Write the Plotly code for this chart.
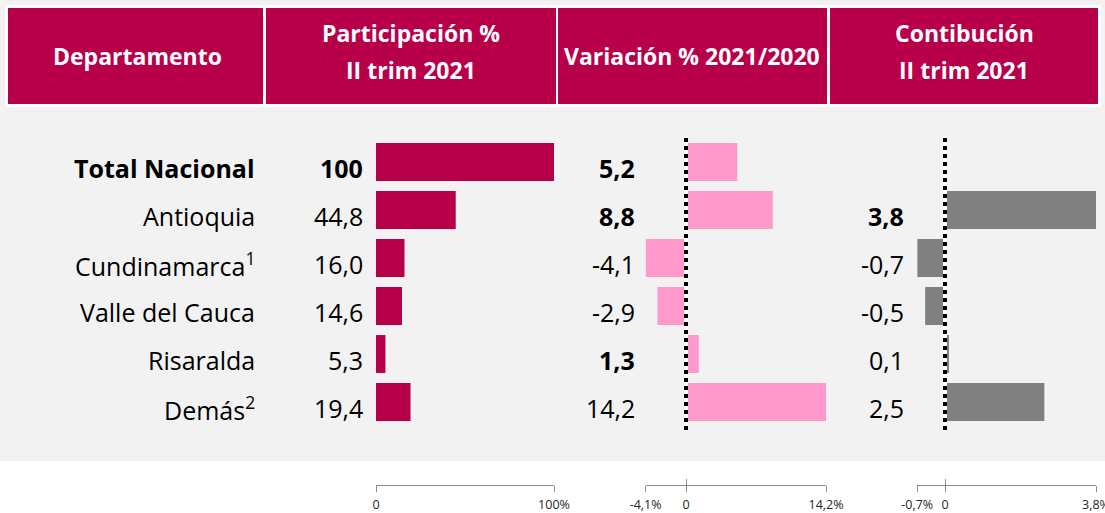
import plotly.graph_objects as go

# ---------------- data ----------------
departamentos = ["Total Nacional", "Antioquia", "Cundinamarca<sup>1</sup>",
                 "Valle del Cauca", "Risaralda", "Demás<sup>2</sup>"]
participacion = [100, 44.8, 16.0, 14.6, 5.3, 19.4]
participacion_txt = ["100", "44,8", "16,0", "14,6", "5,3", "19,4"]
variacion = [5.2, 8.8, -4.1, -2.9, 1.3, 14.2]
variacion_txt = ["5,2", "8,8", "-4,1", "-2,9", "1,3", "14,2"]
contribucion = [None, 3.8, -0.7, -0.5, 0.1, 2.5]
contribucion_txt = ["", "3,8", "-0,7", "-0,5", "0,1", "2,5"]
bold_dep = [True, False, False, False, False, False]
bold_par = [True, False, False, False, False, False]
bold_var = [True, True, False, False, True, False]
bold_con = [False, True, False, False, False, False]

headers = [["Departamento"], ["Participación %", "II trim 2021"],
           ["Variación % 2021/2020"], ["Contibución", "II trim 2021"]]

axis1_ticks = [0, 100]
axis1_text = ["0", "100%"]
axis2_ticks = [-4.1, 0, 14.2]
axis2_text = ["-4,1%", "0", "14,2%"]
axis3_ticks = [-0.7, 0, 3.8]
axis3_text = ["-0,7%", "0", "3,8%"]

# ---------------- style ----------------
W, H = 1105, 513
CRIMSON = "#b8004a"
PINK = "#ff99cc"
GRAY = "#808080"
BG = "#f2f2f2"
FONT = "Open Sans"


def px(x):
    return x / W


def py(y):
    return 1 - y / H


fig = go.Figure()

fig.add_trace(go.Bar(x=participacion, y=departamentos, orientation="h",
                     marker=dict(color=CRIMSON, line=dict(width=0)),
                     width=0.79, xaxis="x", yaxis="y", hoverinfo="skip"))
fig.add_trace(go.Bar(x=variacion, y=departamentos, orientation="h",
                     marker=dict(color=PINK, line=dict(width=0)),
                     width=0.79, xaxis="x2", yaxis="y", hoverinfo="skip"))
fig.add_trace(go.Bar(x=contribucion, y=departamentos, orientation="h",
                     marker=dict(color=GRAY, line=dict(width=0)),
                     width=0.79, xaxis="x3", yaxis="y", hoverinfo="skip"))

axis_pos = py(485)
common_axis = dict(showgrid=False, zeroline=False, showline=True,
                   linecolor="#8c8c8c", linewidth=1, ticks="outside",
                   ticklen=6, tickcolor="#8c8c8c", tickwidth=1,
                   tickfont=dict(family=FONT, size=12.5, color="#262626"),
                   ticklabelstandoff=2, ticklabeloverflow="allow",
                   anchor="free", position=axis_pos, fixedrange=True,
                   automargin=False)
inner_axis = dict(showgrid=False, zeroline=False, showline=False,
                  ticks="inside", ticklen=6, tickcolor="#8c8c8c", tickwidth=1,
                  showticklabels=False, anchor="free", position=axis_pos,
                  fixedrange=True, automargin=False)

d1 = [px(376), px(554)]
d2 = [px(645.6), px(826)]
d3 = [px(917.2), px(1096)]

fig.update_layout(
    width=W, height=H, autosize=False,
    margin=dict(l=0, r=0, t=0, b=0, pad=0),
    paper_bgcolor="white", plot_bgcolor="rgba(0,0,0,0)",
    showlegend=False, barmode="overlay", hovermode=False,
    xaxis=dict(domain=d1, range=[0, 100], tickvals=axis1_ticks,
               ticktext=axis1_text, **common_axis),
    xaxis2=dict(domain=d2, range=[-4.1, 14.2], tickvals=axis2_ticks,
                ticktext=axis2_text, **common_axis),
    xaxis3=dict(domain=d3, range=[-0.7, 3.8], tickvals=axis3_ticks,
                ticktext=axis3_text, **common_axis),
    xaxis4=dict(overlaying="x", range=[0, 100], tickvals=axis1_ticks, **inner_axis),
    xaxis5=dict(overlaying="x2", range=[-4.1, 14.2], tickvals=axis2_ticks, **inner_axis),
    xaxis6=dict(overlaying="x3", range=[-0.7, 3.8], tickvals=axis3_ticks, **inner_axis),
    yaxis=dict(domain=[py(426), py(138)], range=[5.5, -0.5],
               categoryorder="array", categoryarray=departamentos,
               showticklabels=False, showgrid=False, zeroline=False,
               showline=False, ticks="", anchor="free", position=0,
               fixedrange=True, automargin=False),
)

# invisible traces to activate overlay axes
for xa in ["x4", "x5", "x6"]:
    fig.add_trace(go.Scatter(x=[None], y=[None], xaxis=xa, yaxis="y",
                             mode="markers", hoverinfo="skip"))

shapes = []
# gray background
shapes.append(dict(type="rect", xref="paper", yref="paper", x0=0, x1=1,
                   y0=py(461), y1=1, fillcolor=BG, line=dict(width=0),
                   layer="below"))
# header white frame
shapes.append(dict(type="rect", xref="paper", yref="paper", x0=px(5), x1=px(1101),
                   y0=py(107), y1=py(5), fillcolor="white", line=dict(width=0),
                   layer="below"))
header_boxes = [(8, 263), (266, 556), (558, 827), (830, 1098)]
for (a, b) in header_boxes:
    shapes.append(dict(type="rect", xref="paper", yref="paper", x0=px(a), x1=px(b),
                       y0=py(104), y1=py(8), fillcolor=CRIMSON,
                       line=dict(width=0), layer="below"))
# zero reference lines
for xr in ["x2", "x3"]:
    shapes.append(dict(type="line", xref=xr, yref="paper", x0=0, x1=0,
                       y0=py(430), y1=py(137),
                       line=dict(color="white", width=4)))
    shapes.append(dict(type="line", xref=xr, yref="paper", x0=0, x1=0,
                       y0=py(430), y1=py(137),
                       line=dict(color="black", width=4, dash="dot")))
fig.update_layout(shapes=shapes)

ann = []
header_centers = [137, 411, 692, 964]
for lines, cx in zip(headers, header_centers):
    ys = [56] if len(lines) == 1 else [33, 70]
    for line, yy in zip(lines, ys):
        ann.append(dict(text="<b>" + line + "</b>", x=px(cx), y=py(yy),
                        xref="paper", yref="paper", showarrow=False,
                        xanchor="center", yanchor="middle",
                        font=dict(family=FONT, size=23, color="white")))


def cell(txt, bold):
    return "<b>" + txt + "</b>" if bold else txt


TXT_SIZE = 25
for i, dep in enumerate(departamentos):
    for txt, bold, xr in [(dep, bold_dep[i], 257),
                          (participacion_txt[i], bold_par[i], 365),
                          (variacion_txt[i], bold_var[i], 637),
                          (contribucion_txt[i], bold_con[i], 906)]:
        if not txt:
            continue
        ann.append(dict(text=cell(txt, bold), x=px(xr), y=dep,
                        xref="paper", yref="y", yshift=-6,
                        showarrow=False, xanchor="right", yanchor="middle",
                        font=dict(family=FONT, size=TXT_SIZE, color="black")))
fig.update_layout(annotations=ann)

fig.write_html("out.html", config={"displayModeBar": False, "staticPlot": True},
               post_script="document.body.style.margin='0';document.body.style.overflow='hidden';")
